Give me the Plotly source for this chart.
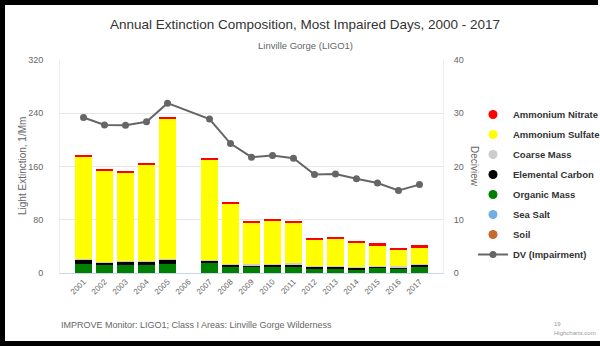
import plotly.graph_objects as go

years = ["2001", "2002", "2003", "2004", "2005", "2006", "2007", "2008", "2009",
         "2010", "2011", "2012", "2013", "2014", "2015", "2016", "2017"]

ammonium_nitrate = [3, 2, 3, 2.5, 2.5, None, 2, 1.5, 2.5, 2, 1.5, 1.5, 2.5, 1.5, 3, 1.5, 4.5]
ammonium_sulfate = [153, 138, 133, 145, 211, None, 151, 90, 62, 64, 61, 40, 41.5, 37, 30.5, 24.5, 23.5]
coarse_mass = [1, 1, 1, 1, 1, None, 1.5, 1.5, 1.5, 1.5, 1.5, 1.5, 1.5, 1.5, 1.5, 1.5, 1.5]
elemental_carbon = [6, 4, 5, 5, 6, None, 4, 3, 3, 3, 3.5, 2.5, 2.5, 2, 2, 2, 3]
organic_mass = [13, 11, 11, 11, 13, None, 14, 9, 8, 9, 9, 6, 6, 5, 7, 6, 9]
sea_salt = [0.2, 0.2, 0.2, 0.2, 0.2, None, 0.2, 0.2, 0.2, 0.2, 0.2, 0.2, 0.2, 0.2, 0.2, 0.2, 0.2]
soil = [0.5, 0.5, 0.5, 0.5, 0.5, None, 0.5, 0.5, 0.5, 0.5, 0.5, 0.5, 0.5, 0.5, 0.5, 0.5, 0.5]
dv_impairment = [29.2, 27.8, 27.75, 28.4, 31.9, None, 28.9, 24.3, 21.75, 22.05, 21.55,
                 18.5, 18.6, 17.7, 16.9, 15.5, 16.6]

left_ticks = [0, 80, 160, 240, 320]
right_ticks = [0, 10, 20, 30, 40]

W, H = 600, 346
ML, MR, MT, MB = 60, 157, 60, 73
PW, PH = W - ML - MR, H - MT - MB


def px(x):
    return (x - ML) / PW


def py(y):
    return (H - MB - y) / PH


# stacking bottom -> top
stack = [
    ("Soil", soil, "#c8692b"),
    ("Sea Salt", sea_salt, "#72aee6"),
    ("Organic Mass", organic_mass, "#008000"),
    ("Elemental Carbon", elemental_carbon, "#000000"),
    ("Coarse Mass", coarse_mass, "#cccccc"),
    ("Ammonium Sulfate", ammonium_sulfate, "#ffff00"),
    ("Ammonium Nitrate", ammonium_nitrate, "#ff0000"),
]
legend_order = ["Ammonium Nitrate", "Ammonium Sulfate", "Coarse Mass", "Elemental Carbon",
                "Organic Mass", "Sea Salt", "Soil"]

fig = go.Figure()
for name, vals, col in stack:
    fig.add_trace(go.Bar(x=years, y=vals, name=name, marker=dict(color=col, line=dict(width=0)),
                         showlegend=False, yaxis="y"))

for i, name in enumerate(legend_order):
    col = [c for n, v, c in stack if n == name][0]
    fig.add_trace(go.Scatter(x=[None], y=[None], mode="markers", name=name,
                             marker=dict(symbol="circle", size=9, color=col),
                             legendrank=i + 1, legendgroup=name, yaxis="y"))

fig.add_trace(go.Scatter(x=years, y=dv_impairment, name="DV (Impairment)", yaxis="y2",
                         mode="lines+markers", connectgaps=True,
                         line=dict(color="#666666", width=2),
                         marker=dict(symbol="circle", size=7, color="#666666"),
                         legendrank=8, legendgroup="dv"))

FONT = "Liberation Sans, Arial, sans-serif"
axis_font = dict(family=FONT, size=9, color="#666666")

shapes = [
    dict(type="rect", xref="paper", yref="paper", x0=px(0), x1=px(5), y0=py(346), y1=py(0),
         fillcolor="black", line=dict(width=0), layer="above"),
    dict(type="rect", xref="paper", yref="paper", x0=px(0), x1=px(598), y0=py(5), y1=py(0),
         fillcolor="black", line=dict(width=0), layer="above"),
    dict(type="rect", xref="paper", yref="paper", x0=px(0), x1=px(600), y0=py(346), y1=py(341),
         fillcolor="black", line=dict(width=0), layer="above"),
]

annotations = [
    dict(text="Linville Gorge (LIGO1)", xref="paper", yref="paper", x=px(305), y=py(45),
         showarrow=False, xanchor="center", yanchor="middle",
         font=dict(family=FONT, size=9.5, color="#666666")),
    dict(text="Light Extinction, 1/Mm", xref="paper", yref="paper", x=px(22), y=py(166),
         textangle=-90, showarrow=False, xanchor="center", yanchor="middle",
         font=dict(family=FONT, size=10, color="#666666")),
    dict(text="Deciview", xref="paper", yref="paper", x=px(475), y=py(166), textangle=90,
         showarrow=False, xanchor="center", yanchor="middle",
         font=dict(family=FONT, size=10, color="#666666")),
    dict(text="IMPROVE Monitor: LIGO1; Class I Areas: Linville Gorge Wilderness",
         xref="paper", yref="paper", x=px(59), y=py(325), showarrow=False,
         xanchor="left", yanchor="middle",
         font=dict(family=FONT, size=9, color="#666666")),
    dict(text="19", xref="paper", yref="paper", x=px(552), y=py(324), showarrow=False,
         xanchor="left", yanchor="middle",
         font=dict(family=FONT, size=6, color="#999999")),
    dict(text="Highcharts.com", xref="paper", yref="paper", x=px(552), y=py(333), showarrow=False,
         xanchor="left", yanchor="middle",
         font=dict(family=FONT, size=6, color="#999999")),
]

fig.update_layout(
    width=W, height=H,
    margin=dict(l=ML, r=MR, t=MT, b=MB, pad=0, autoexpand=False),
    paper_bgcolor="white", plot_bgcolor="white",
    barmode="stack", bargap=0.2,
    title=dict(text="Annual Extinction Composition, Most Impaired Days, 2000 - 2017",
               xref="container", x=305 / W, xanchor="center",
               yref="container", y=1 - 24 / H, yanchor="middle",
               font=dict(family=FONT, size=13.5, color="#333333")),
    xaxis=dict(type="category", tickangle=-45, tickfont=dict(family=FONT, size=8, color="#666666"),
               showgrid=False, automargin=False,
               showline=True, linecolor="#ccd6eb", linewidth=1, ticks="", fixedrange=True),
    yaxis=dict(range=[0, 320], tickvals=left_ticks, tickfont=axis_font, automargin=False,
               showgrid=True, gridcolor="#e6e6e6", gridwidth=1, zeroline=False,
               showline=True, linecolor="#eeeeee", ticklabelstandoff=14),
    yaxis2=dict(range=[0, 40], tickvals=right_ticks, tickfont=axis_font, overlaying="y",
                side="right", showgrid=False, zeroline=False, showline=True, automargin=False,
                linecolor="#eeeeee", ticklabelstandoff=8),
    legend=dict(x=px(473), y=py(100), xanchor="left", yanchor="top",
                font=dict(family=FONT, size=9.5, color="#333333", weight="bold"),
                traceorder="grouped", tracegroupgap=1, itemwidth=30,
                bgcolor="rgba(0,0,0,0)"),
    shapes=shapes,
    annotations=annotations,
)

fig.write_html("out.html", config={"displayModeBar": False},
               post_script="document.body.style.margin='0';")
